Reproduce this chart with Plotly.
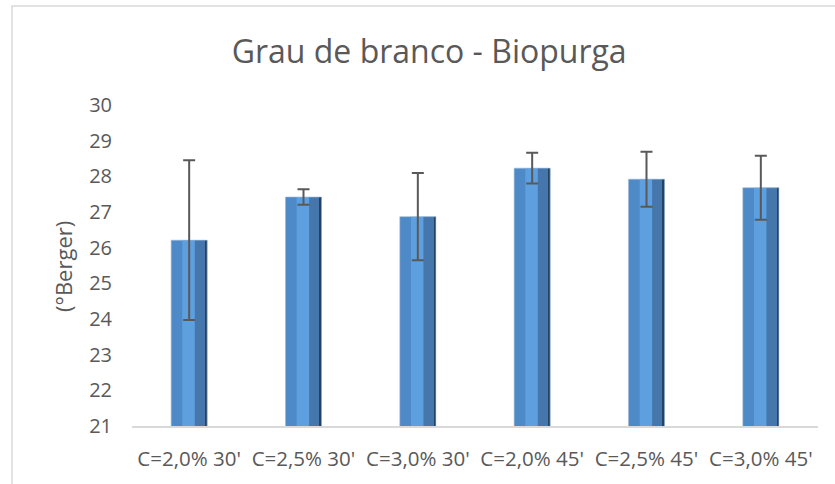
import plotly.graph_objects as go

categories = ["C=2,0% 30'", "C=2,5% 30'", "C=3,0% 30'", "C=2,0% 45'", "C=2,5% 45'", "C=3,0% 45'"]
values = [26.21, 27.42, 26.87, 28.23, 27.92, 27.68]
errors = [2.24, 0.22, 1.22, 0.43, 0.77, 0.90]
y_ticks = [21, 22, 23, 24, 25, 26, 27, 28, 29, 30]

FONT = "Open Sans"
GRAY = "#595959"
BW = 0.315

fig = go.Figure()
# bar body and shading strips (bevel look)
strips = [
    (-BW / 2, BW, "#4E8AC8"),
    (-0.06, 0.11, "#5EA0DF"),
    (0.05, 0.092, "#4677AC"),
    (0.142, 0.0155, "#25435F"),
]
for off, w, col in strips:
    fig.add_trace(go.Bar(
        x=categories, y=values, base=0, offset=off, width=w,
        marker=dict(color=col, line=dict(width=0)),
        hoverinfo="skip",
    ))
fig.add_trace(go.Bar(
    x=categories, y=values, offset=-BW / 2, width=BW,
    marker=dict(color="rgba(0,0,0,0)", line=dict(color="#9DB9D8", width=0.6)),
    error_y=dict(type="data", array=errors, visible=True, color=GRAY, thickness=2, width=6),
))

fig.update_layout(
    width=835, height=484,
    margin=dict(l=132, r=17, t=105, b=58),
    paper_bgcolor="white", plot_bgcolor="white",
    showlegend=False,
    barmode="overlay",
    title=dict(text="Grau de branco - Biopurga", x=0.514, xanchor="center", y=0.893, yanchor="middle",
               font=dict(family=FONT, size=32, color=GRAY)),
    font=dict(family=FONT, color=GRAY),
)
fig.update_yaxes(range=[21, 30], tickvals=y_ticks, showgrid=False, zeroline=False,
                 tickfont=dict(size=20, color=GRAY), ticks="", ticklabelstandoff=19)
fig.update_xaxes(showline=True, linecolor="#D9D9D9", linewidth=2, tickfont=dict(size=20.5, color=GRAY),
                 ticks="", ticklabelstandoff=13)

fig.add_annotation(text="(°Berger)", xref="paper", yref="paper", x=(63 - 132) / 686, y=1 - (267 - 105) / 321,
                   xanchor="center", yanchor="middle", textangle=-90, showarrow=False,
                   font=dict(family=FONT, size=22, color=GRAY))

fig.add_shape(type="rect", xref="paper", yref="paper", x0=(12 - 132) / 686, x1=1.2, y0=-0.5,
              y1=1 + (105 - 6) / 321,
              line=dict(color="#D9D9D9", width=1.5), fillcolor="rgba(0,0,0,0)", layer="below")

fig.write_html("out.html", post_script="document.body.style.margin='0px';",
               config={"displayModeBar": False})
